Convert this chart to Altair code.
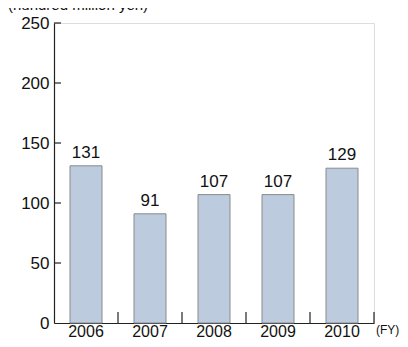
import altair as alt
import pandas as pd

years = ["2006", "2007", "2008", "2009", "2010"]
values = [131, 91, 107, 107, 129]
y_ticks = [50, 100, 150, 200, 250]
unit_label = "(hundred million yen)"
fy_label = "(FY)"

FONT = "Liberation Sans"
FS = 17
AXIS_COLOR = "#222222"
H = 300
W = 320

df = pd.DataFrame({"year": years, "value": values})
ticks_df = pd.DataFrame({"t": y_ticks})

x_scale = alt.Scale(paddingInner=0.5, paddingOuter=0.25)
y_scale = alt.Scale(domain=[0, 250], nice=False)

bars = alt.Chart(df).mark_bar(
    color="#bccbdd", stroke="#8a8a8a", strokeWidth=1
).encode(
    x=alt.X("year:N", scale=x_scale, sort=years,
            axis=alt.Axis(title=None, labelAngle=0, labelFont=FONT, labelFontSize=16,
                          labelColor="#111111", ticks=False, domainColor=AXIS_COLOR,
                          domainWidth=1.2, labelPadding=0)),
    y=alt.Y("value:Q", scale=y_scale,
            axis=alt.Axis(title=None, values=[0] + y_ticks, labelFont=FONT, labelFontSize=FS,
                          labelColor="#111111", ticks=False, domainColor=AXIS_COLOR,
                          domainWidth=1.2, grid=False, labelPadding=5)),
)

labels = alt.Chart(df).mark_text(
    font=FONT, fontSize=FS, baseline="bottom", dy=-4, color="#111111"
).encode(
    x=alt.X("year:N", scale=x_scale, sort=years),
    y=alt.Y("value:Q", scale=y_scale),
    text=alt.Text("value:Q"),
)

ytick_rules = alt.Chart(ticks_df).mark_rule(color=AXIS_COLOR, strokeWidth=1.2).encode(
    y=alt.Y("t:Q", scale=y_scale),
    x=alt.value(0),
    x2=alt.value(7),
)

xtick_rules = alt.Chart(df).mark_rule(color=AXIS_COLOR, strokeWidth=1.2, xOffset=W / 20).encode(
    x=alt.X("year:N", scale=x_scale, sort=years, bandPosition=1),
    y=alt.value(H),
    y2=alt.value(H - 11),
)

fy = alt.Chart(pd.DataFrame({"t": [fy_label]})).mark_text(
    font=FONT, fontSize=12, align="left", baseline="top", color="#111111"
).encode(
    x=alt.value(W + 2), y=alt.value(H + 2), text="t:N"
)

unit = alt.Chart(pd.DataFrame({"t": [unit_label]})).mark_text(
    font=FONT, fontSize=15, align="left", baseline="alphabetic", color="#111111"
).encode(
    x=alt.value(-46), y=alt.value(-13), text="t:N"
)

chart = alt.layer(bars, labels, ytick_rules, xtick_rules, fy, unit).properties(
    width=W, height=H,
    autosize=alt.AutoSizeParams(type="none"),
    padding={"left": 46, "top": 15, "right": 26, "bottom": 16},
).configure_view(stroke=None).configure(background="white")

chart.save("out.html", embed_options={"renderer": "svg", "actions": False})
